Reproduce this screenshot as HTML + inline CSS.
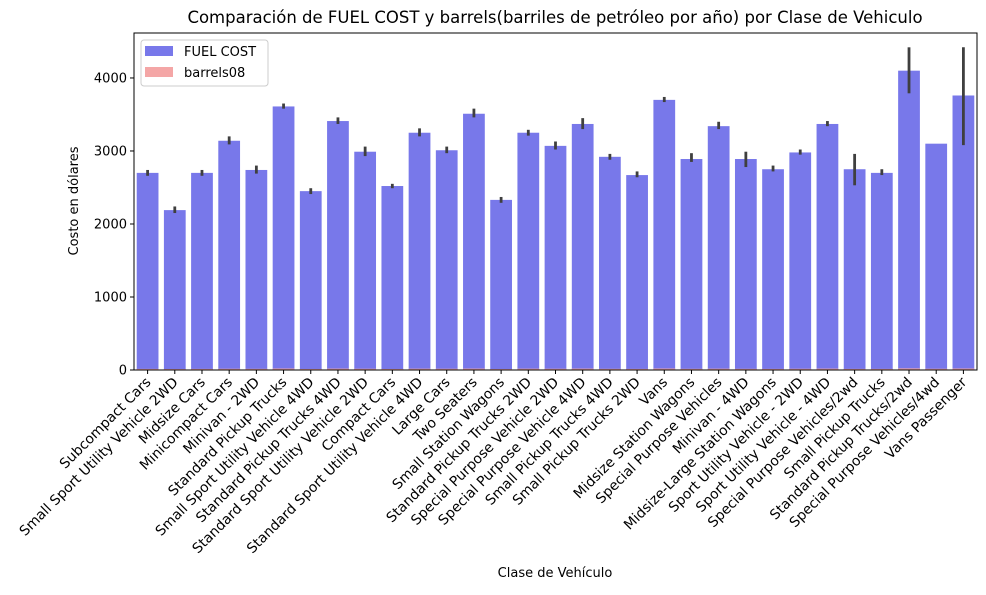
<!DOCTYPE html>
<html><head><meta charset="utf-8"><style>
body{margin:0;background:#fff}
svg text{font-family:"DejaVu Sans","Liberation Sans",sans-serif;fill:#000}
</style></head><body>
<svg id="chart" width="986" height="590" xmlns="http://www.w3.org/2000/svg">
<text x="555" y="23" font-size="16.5" text-anchor="middle">Comparación de FUEL COST y barrels(barriles de petróleo por año) por Clase de Vehiculo</text>
<g id="plot"></g>
<text x="555" y="577" font-size="13" text-anchor="middle">Clase de Vehículo</text>
<text transform="translate(78,201) rotate(-90)" font-size="13" text-anchor="middle">Costo en dólares</text>
</svg>
<script>
const categories=["Subcompact Cars","Small Sport Utility Vehicle 2WD","Midsize Cars","Minicompact Cars","Minivan - 2WD","Standard Pickup Trucks","Small Sport Utility Vehicle 4WD","Standard Pickup Trucks 4WD","Standard Sport Utility Vehicle 2WD","Compact Cars","Standard Sport Utility Vehicle 4WD","Large Cars","Two Seaters","Small Station Wagons","Standard Pickup Trucks 2WD","Special Purpose Vehicle 2WD","Special Purpose Vehicle 4WD","Small Pickup Trucks 4WD","Small Pickup Trucks 2WD","Vans","Midsize Station Wagons","Special Purpose Vehicles","Minivan - 4WD","Midsize-Large Station Wagons","Sport Utility Vehicle - 2WD","Sport Utility Vehicle - 4WD","Special Purpose Vehicles/2wd","Small Pickup Trucks","Standard Pickup Trucks/2wd","Special Purpose Vehicles/4wd","Vans Passenger"];
const fuelCost=[2700,2190,2700,3140,2740,3610,2450,3410,2990,2520,3250,3010,3510,2330,3250,3070,3370,2920,2670,3700,2890,3340,2890,2750,2980,3370,2750,2700,4100,3100,3760];
const fuelLow=[2660,2150,2660,3090,2690,3580,2410,3370,2930,2490,3200,2970,3460,2290,3210,3020,3300,2880,2640,3670,2850,3300,2780,2720,2950,3340,2530,2670,3790,3100,3080];
const fuelHigh=[2740,2240,2740,3200,2800,3650,2490,3460,3060,2550,3310,3060,3580,2370,3290,3130,3450,2960,2720,3740,2970,3400,2990,2800,3020,3410,2960,2750,4420,3100,4420];
const barrels08=[15,13,15,17,16,20,14,19,17,14,18,17,19,13,18,17,19,16,15,20,16,18,16,15,17,19,15,15,22,17,20];
const yTicks=[0,1000,2000,3000,4000];
const L=134,R=977,T=33,B=370,yMax=4616;
const NS="http://www.w3.org/2000/svg";
const g=document.getElementById('plot');
const y=v=>B-(v/yMax)*(B-T);
const step=(R-L)/categories.length;
const xc=i=>L+step*(i+0.5);
function mk(t,a){const e=document.createElementNS(NS,t);for(const k in a)e.setAttribute(k,a[k]);g.appendChild(e);return e;}
const bw=step*0.8;
categories.forEach((c,i)=>{
  const b=mk('rect',{x:xc(i)-bw/2,y:y(fuelCost[i]),width:bw,height:B-y(fuelCost[i]),fill:'#7878ea'});
  
  
  const r=mk('rect',{x:xc(i)-bw/2,y:y(barrels08[i]),width:bw,height:B-y(barrels08[i]),fill:'#f4a6a6'});
  
  
  if(fuelHigh[i]>fuelLow[i]){
    const e=mk('line',{x1:xc(i),x2:xc(i),y1:y(fuelLow[i]),y2:y(fuelHigh[i]),stroke:'#3f3f3f','stroke-width':2.8});
    
    
  }
  const tk=mk('line',{x1:xc(i),x2:xc(i),y1:B,y2:B+4,stroke:'#000','stroke-width':1});
  
  
  const t=mk('text',{transform:`translate(${xc(i)+4},${B+13}) rotate(-45)`,'font-size':13.9,'text-anchor':'end'});
  t.textContent=c;
  
  
});
yTicks.forEach(v=>{
  const tk=mk('line',{x1:L-4,x2:L,y1:y(v),y2:y(v),stroke:'#000','stroke-width':1});
  
  
  const t=mk('text',{x:L-7,y:y(v)+4.5,'font-size':13,'text-anchor':'end'});
  t.textContent=v;
  
  
});
const fr=mk('rect',{x:L,y:T,width:R-L,height:B-T,fill:'none',stroke:'#000','stroke-width':1});


const lg=mk('rect',{x:141,y:40,width:127,height:46,rx:3,fill:'#fff','fill-opacity':0.8,stroke:'#ccc'});


[['FUEL COST','#7878ea',51],['barrels08','#f4a6a6',72]].forEach(([n,c,yy])=>{
  const s=mk('rect',{x:145,y:yy-5,width:28,height:10,fill:c});
  
  
  const t=mk('text',{x:184,y:yy+5,'font-size':13});
  t.textContent=n;
  
  
});
</script>
</body></html>
